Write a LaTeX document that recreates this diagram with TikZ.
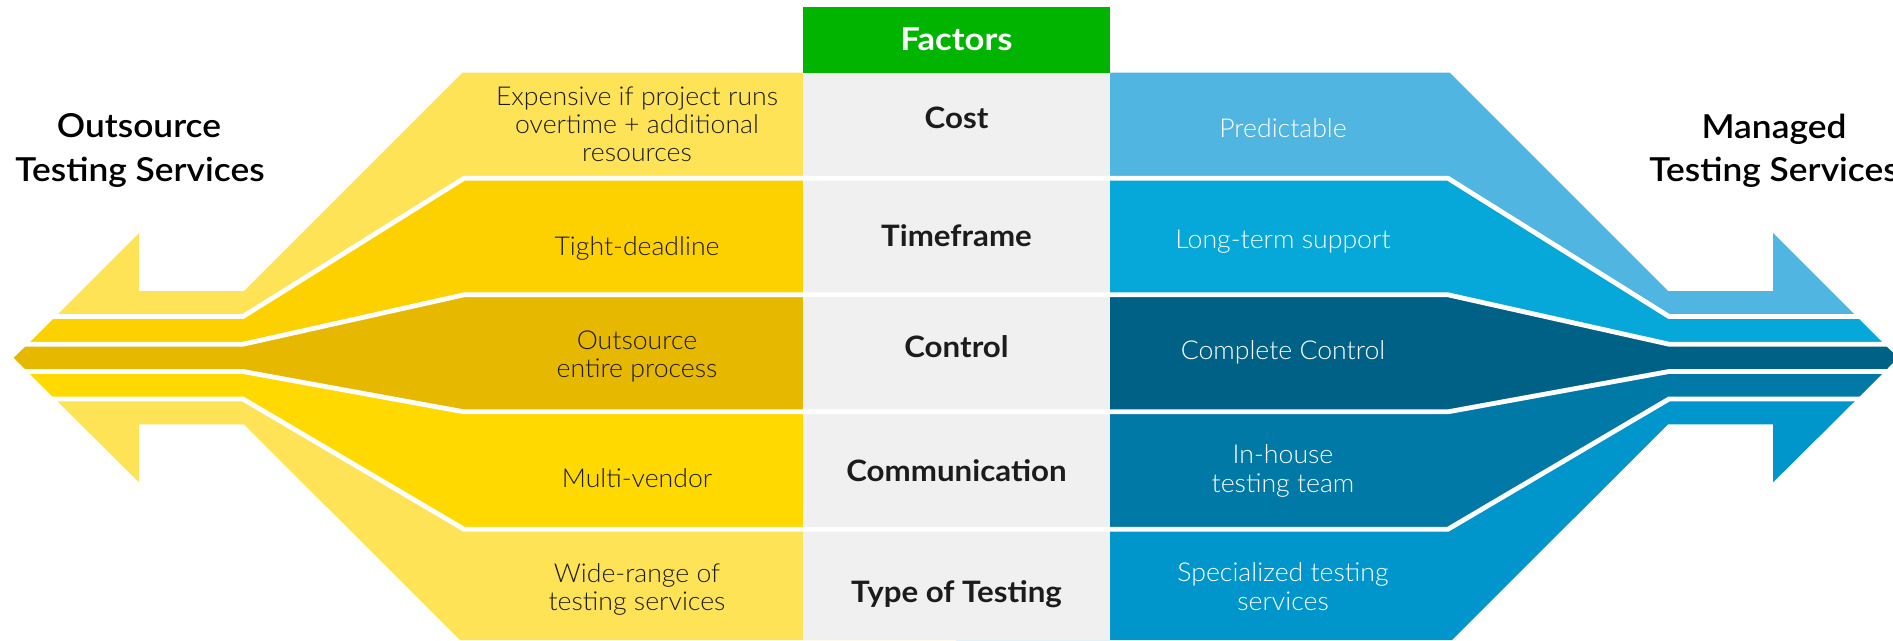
\documentclass[tikz,border=0pt]{standalone}
\usepackage{fontspec}
\setmainfont{Lato}
\newfontfamily\lightfont{Lato Light}[FakeStretch=1.025]
\newfontfamily\semifont{Lato Semibold}[FakeStretch=1.07]
\newfontfamily\boldfont{Lato Bold}[FakeStretch=1.06]
\newfontfamily\hdrfont{Lato Bold}[FakeStretch=1.1]
\definecolor{yA}{HTML}{FFE357}
\definecolor{yB}{HTML}{FDD100}
\definecolor{yC}{HTML}{E6B800}
\definecolor{yD}{HTML}{FFD900}
\definecolor{bA}{HTML}{50B5E0}
\definecolor{bB}{HTML}{05A8D8}
\definecolor{bC}{HTML}{006186}
\definecolor{bD}{HTML}{0079A6}
\definecolor{bE}{HTML}{0096CB}
\definecolor{hdr}{HTML}{00B400}
\definecolor{colgray}{HTML}{F0F0F0}
\definecolor{txtdark}{HTML}{1C1C1C}
\def\pcost{(139,233) -- (139,291) -- (244,291) -- (462.3,72.7) -- (1449.7,72.7) -- (1668,291) -- (1773,291) -- (1773,233) -- (1856.5,316.5) -- (1669,316.5) -- (1448,178.3) -- (464,178.3) -- (243,316.5) -- (55.5,316.5) -- cycle}
\def\ptime{(55.5,316.5) -- (243,316.5) -- (464,178.3) -- (1448,178.3) -- (1669,316.5) -- (1856.5,316.5) -- (1884.2,344.2) -- (1669,344.2) -- (1448,294.8) -- (464,294.8) -- (243,344.2) -- (27.8,344.2) -- cycle}
\def\pctrl{(27.8,344.2) -- (243,344.2) -- (464,294.8) -- (1448,294.8) -- (1669,344.2) -- (1884.2,344.2) -- (1898.2,357.7) -- (1884.5,371.5) -- (1669,371.5) -- (1448,411.8) -- (464,411.8) -- (243,371.5) -- (27.5,371.5) -- (13.7,357.7) -- cycle}
\def\pcomm{(27.5,371.5) -- (243,371.5) -- (464,411.8) -- (1448,411.8) -- (1669,371.5) -- (1884.5,371.5) -- (1857,399) -- (1669,399) -- (1448,529.2) -- (464,529.2) -- (243,399) -- (55,399) -- cycle}
\def\ptype{(55,399) -- (243,399) -- (464,529.2) -- (1448,529.2) -- (1669,399) -- (1857,399) -- (1773,482.4) -- (1773,424.4) -- (1668,424.4) -- (1452,640) -- (460,640) -- (244,424.4) -- (139,424.4) -- (139,482.4) -- cycle}
\begin{document}
\begin{tikzpicture}[x=1pt,y=-1pt,
  sepline/.style={draw=white, line width=4.8pt, line join=miter},
  bandtxt/.style={font=\lightfont\fontsize{26}{30}\selectfont, inner sep=0pt, anchor=base},
  lefttxt/.style={bandtxt, text=txtdark},
  righttxt/.style={bandtxt, text=white},
  factor/.style={font=\boldfont\fontsize{29.5}{33}\selectfont, text=txtdark, inner sep=0pt, anchor=base},
  titletxt/.style={font=\semifont\fontsize{33}{38}\selectfont, text=black, inner sep=0pt, anchor=base}]
\useasboundingbox (0,0) rectangle (1893,640);
\clip (0,0) rectangle (1893,640);
% yellow halves
\begin{scope}
  \clip (0,0) rectangle (956,640);
  \fill[yA] \pcost;
  \fill[yB] \ptime;
  \fill[yC] \pctrl;
  \fill[yD] \pcomm;
  \fill[yA] \ptype;
\end{scope}
% blue halves
\begin{scope}
  \clip (956,0) rectangle (1893,640);
  \fill[bA] \pcost;
  \fill[bB] \ptime;
  \fill[bC] \pctrl;
  \fill[bD] \pcomm;
  \fill[bE] \ptype;
\end{scope}
% middle column
\fill[colgray] (803,72.7) rectangle (1110,640);
\fill[hdr] (803,6.7) rectangle (1110,72.7);
% white separators
\draw[sepline] (0,316.5) -- (243,316.5) -- (464,178.3) -- (1448,178.3) -- (1669,316.5) -- (1893,316.5);
\draw[sepline] (0,344.2) -- (243,344.2) -- (464,294.8) -- (1448,294.8) -- (1669,344.2) -- (1893,344.2);
\draw[sepline] (0,371.5) -- (243,371.5) -- (464,411.8) -- (1448,411.8) -- (1669,371.5) -- (1893,371.5);
\draw[sepline] (0,399) -- (243,399) -- (464,529.2) -- (1448,529.2) -- (1669,399) -- (1893,399);
% titles
\node[titletxt] (lt1) at (139,137.5) {Outsource};
\node[titletxt] (lt2) at (140,181) {Testing Services};
\node[titletxt] (rt1) at (1774,138) {Managed};
\node[titletxt] (rt2) at (1774,181) {Testing Services};
% header
\node[font=\hdrfont\fontsize{31.5}{36}\selectfont, text=white, inner sep=0pt, anchor=base] (hd) at (956.5,50.5) {Factors};
% factors
\node[factor] (f1) at (956.5,128) {Cost};
\node[factor] (f2) at (956.5,246) {Timeframe};
\node[factor] (f3) at (956.5,357.5) {Control};
\node[factor] (f4) at (956.5,481) {Communication};
\node[factor] (f5) at (956.5,602.5) {Type of Testing};
% left texts
\node[lefttxt] (l1a) at (637,105.5) {Expensive if project runs};
\node[lefttxt] (l1b) at (637,133.5) {overtime + additional};
\node[lefttxt] (l1c) at (637,161.5) {resources};
\node[lefttxt] (l2) at (637,255.5) {Tight-deadline};
\node[lefttxt] (l3a) at (637,349.5) {Outsource};
\node[lefttxt] (l3b) at (637,377.5) {entire process};
\node[lefttxt] (l4) at (637,487) {Multi-vendor};
\node[lefttxt] (l5a) at (637,582) {Wide-range of};
\node[lefttxt] (l5b) at (637,610.5) {testing services};
% right texts
\node[righttxt] (r1) at (1283,137) {Predictable};
\node[righttxt] (r2) at (1283,248.8) {Long-term support};
\node[righttxt] (r3) at (1283,359.5) {Complete Control};
\node[righttxt] (r4a) at (1283,463) {In-house};
\node[righttxt] (r4b) at (1283,492) {testing team};
\node[righttxt] (r5a) at (1283,581) {Specialized testing};
\node[righttxt] (r5b) at (1283,610.5) {services};
\end{tikzpicture}
\end{document}
